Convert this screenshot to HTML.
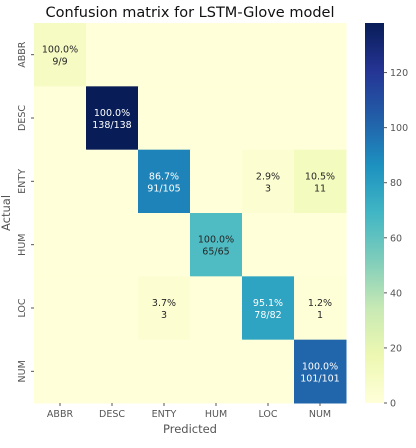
<!DOCTYPE html>
<html><head><meta charset="utf-8"><style>
body{margin:0;background:#fff;font-family:"Liberation Sans","DejaVu Sans",sans-serif}
svg text{font-family:"DejaVu Sans","Liberation Sans",sans-serif}
</style></head><body>
<svg id="c" width="416" height="443"></svg>
<script>
const labels=["ABBR","DESC","ENTY","HUM","LOC","NUM"];
const counts=[
[9,0,0,0,0,0],
[0,138,0,0,0,0],
[0,0,91,0,3,11],
[0,0,0,65,0,0],
[0,0,3,0,78,1],
[0,0,0,0,0,101]];
const rowTotals=[9,138,105,65,82,101];
const cbTicks=[0,20,40,60,80,100,120];
const vmax=138;
const stops=["#ffffd9","#edf8b1","#c7e9b4","#7fcdbb","#41b6c4","#1d91c0","#225ea8","#253494","#081d58"];
function hex(h){return [1,3,5].map(i=>parseInt(h.substr(i,2),16));}
function cmap(t){t=Math.max(0,Math.min(1,t));const s=t*(stops.length-1);const i=Math.min(Math.floor(s),stops.length-2);const f=s-i;const a=hex(stops[i]),b=hex(stops[i+1]);return "rgb("+a.map((v,k)=>Math.round(v+(b[k]-v)*f)).join(",")+")";}
const svg=document.getElementById('c');const NS="http://www.w3.org/2000/svg";
function el(t,a,txt){const e=document.createElementNS(NS,t);for(const k in a)e.setAttribute(k,a[k]);if(txt!==undefined)e.textContent=txt;svg.appendChild(e);return e;}
const X0=34,X1=346,Y0=23,Y1=403;const cw=(X1-X0)/6,ch=(Y1-Y0)/6;
const xs=i=>X0+i*cw, ys=i=>Y0+i*ch;
let t=el('text',{x:190,y:17,'text-anchor':'middle','font-size':14.5,fill:'#111'},'Confusion matrix for LSTM-Glove model');


for(let r=0;r<6;r++)for(let c=0;c<6;c++){
 const v=counts[r][c];
 const rc=el('rect',{x:xs(c),y:ys(r),width:cw+0.5,height:ch+0.5,fill:cmap(v/vmax)});
 
 
 if(v>0){
  const col=v>70?'#fff':'#262626';
  const p=(100*v/rowTotals[r]).toFixed(1)+'%';
  const l2=r===c?v+'/'+rowTotals[r]:String(v);
  const a=el('text',{x:xs(c)+cw/2,y:ys(r)+ch/2-2,'text-anchor':'middle','font-size':9.5,fill:col},p);
  
  
  const b=el('text',{x:xs(c)+cw/2,y:ys(r)+ch/2+10,'text-anchor':'middle','font-size':9.5,fill:col},l2);
  
  
 }
}
labels.forEach((l,i)=>{
 el('line',{x1:xs(i)+cw/2,x2:xs(i)+cw/2,y1:Y1,y2:Y1+3,stroke:'#555'});
 const a=el('text',{x:xs(i)+cw/2,y:Y1+14,'text-anchor':'middle','font-size':9.5,fill:'#555'},l);
 
 
 el('line',{x1:X0-3,x2:X0,y1:ys(i)+ch/2,y2:ys(i)+ch/2,stroke:'#555'});
 const yy=ys(i)+ch/2;
 const b=el('text',{x:25,y:yy,'text-anchor':'middle','font-size':9.5,fill:'#555',transform:`rotate(-90 25 ${yy})`},l);
 
 
});
t=el('text',{x:190,y:433,'text-anchor':'middle','font-size':11.5,fill:'#555'},'Predicted');


t=el('text',{x:10,y:213,'text-anchor':'middle','font-size':11.5,fill:'#555',transform:'rotate(-90 10 213)'},'Actual');


// colorbar
const CX=365,CW=19;
const defs=el('defs',{});
const g=document.createElementNS(NS,'linearGradient');g.setAttribute('id','gr');g.setAttribute('x1','0');g.setAttribute('y1','1');g.setAttribute('x2','0');g.setAttribute('y2','0');
stops.forEach((s,i)=>{const st=document.createElementNS(NS,'stop');st.setAttribute('offset',i/(stops.length-1));st.setAttribute('stop-color',s);g.appendChild(st);});
defs.appendChild(g);
const cb=el('rect',{x:CX,y:Y0,width:CW,height:Y1-Y0,fill:'url(#gr)'});


const cy=v=>Y1-(v/vmax)*(Y1-Y0);
cbTicks.forEach(v=>{
 el('line',{x1:CX+CW,x2:CX+CW+3,y1:cy(v),y2:cy(v),stroke:'#555'});
 const a=el('text',{x:CX+CW+6,y:cy(v)+3.5,'font-size':9.5,fill:'#555'},String(v));
 
 
});
</script>
</body></html>
